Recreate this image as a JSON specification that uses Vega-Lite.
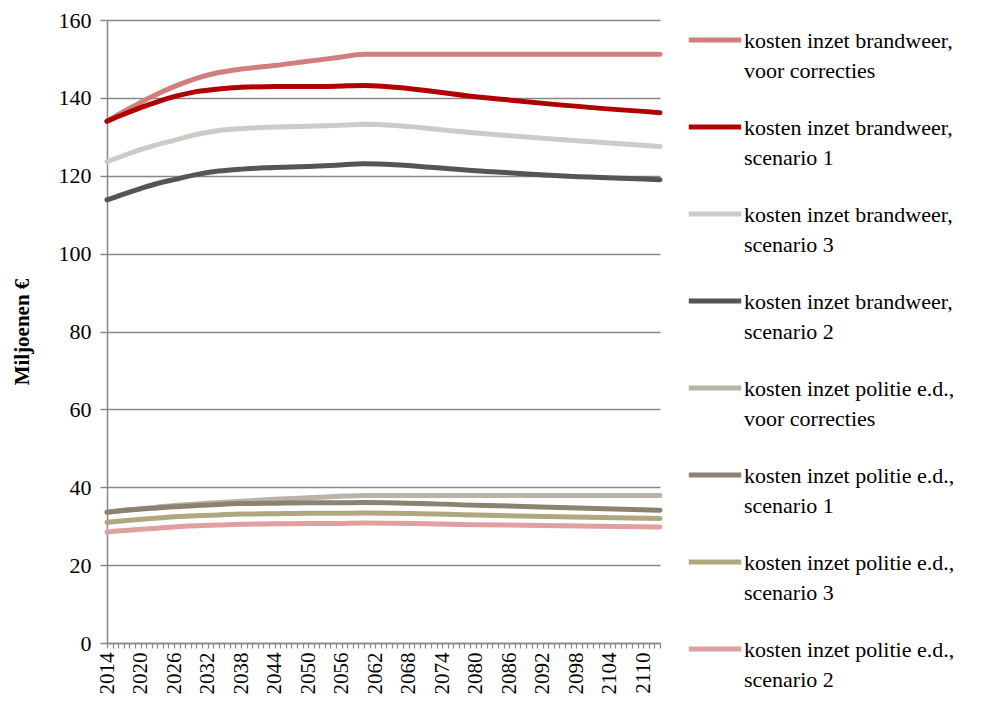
{
  "$schema": "https://vega.github.io/schema/vega-lite/v6.json",
  "autosize": {"type": "none"},
  "padding": {"left": 107, "top": 20, "right": 335, "bottom": 67},
  "width": 553,
  "height": 623,
  "background": "white",
  "config": {
    "view": {"stroke": null},
    "font": "Liberation Serif"
  },
  "data": {"values": [
    {"s": "kosten inzet brandweer, voor correcties", "year": 2014, "v": 134.0},
    {"s": "kosten inzet brandweer, voor correcties", "year": 2017, "v": 136.5},
    {"s": "kosten inzet brandweer, voor correcties", "year": 2020, "v": 138.8},
    {"s": "kosten inzet brandweer, voor correcties", "year": 2023, "v": 141.0},
    {"s": "kosten inzet brandweer, voor correcties", "year": 2026, "v": 142.9},
    {"s": "kosten inzet brandweer, voor correcties", "year": 2030, "v": 145.0},
    {"s": "kosten inzet brandweer, voor correcties", "year": 2034, "v": 146.5},
    {"s": "kosten inzet brandweer, voor correcties", "year": 2038, "v": 147.4},
    {"s": "kosten inzet brandweer, voor correcties", "year": 2044, "v": 148.3},
    {"s": "kosten inzet brandweer, voor correcties", "year": 2050, "v": 149.4},
    {"s": "kosten inzet brandweer, voor correcties", "year": 2055, "v": 150.3},
    {"s": "kosten inzet brandweer, voor correcties", "year": 2060, "v": 151.2},
    {"s": "kosten inzet brandweer, voor correcties", "year": 2080, "v": 151.2},
    {"s": "kosten inzet brandweer, voor correcties", "year": 2095, "v": 151.2},
    {"s": "kosten inzet brandweer, voor correcties", "year": 2113, "v": 151.2},

    {"s": "kosten inzet brandweer, scenario 1", "year": 2014, "v": 134.0},
    {"s": "kosten inzet brandweer, scenario 1", "year": 2017, "v": 135.8},
    {"s": "kosten inzet brandweer, scenario 1", "year": 2020, "v": 137.5},
    {"s": "kosten inzet brandweer, scenario 1", "year": 2023, "v": 139.0},
    {"s": "kosten inzet brandweer, scenario 1", "year": 2026, "v": 140.3},
    {"s": "kosten inzet brandweer, scenario 1", "year": 2030, "v": 141.6},
    {"s": "kosten inzet brandweer, scenario 1", "year": 2034, "v": 142.3},
    {"s": "kosten inzet brandweer, scenario 1", "year": 2038, "v": 142.7},
    {"s": "kosten inzet brandweer, scenario 1", "year": 2044, "v": 142.9},
    {"s": "kosten inzet brandweer, scenario 1", "year": 2050, "v": 142.9},
    {"s": "kosten inzet brandweer, scenario 1", "year": 2055, "v": 143.0},
    {"s": "kosten inzet brandweer, scenario 1", "year": 2060, "v": 143.2},
    {"s": "kosten inzet brandweer, scenario 1", "year": 2080, "v": 140.3},
    {"s": "kosten inzet brandweer, scenario 1", "year": 2095, "v": 138.2},
    {"s": "kosten inzet brandweer, scenario 1", "year": 2113, "v": 136.2},

    {"s": "kosten inzet brandweer, scenario 3", "year": 2014, "v": 123.6},
    {"s": "kosten inzet brandweer, scenario 3", "year": 2017, "v": 125.2},
    {"s": "kosten inzet brandweer, scenario 3", "year": 2020, "v": 126.7},
    {"s": "kosten inzet brandweer, scenario 3", "year": 2023, "v": 128.0},
    {"s": "kosten inzet brandweer, scenario 3", "year": 2026, "v": 129.1},
    {"s": "kosten inzet brandweer, scenario 3", "year": 2030, "v": 130.6},
    {"s": "kosten inzet brandweer, scenario 3", "year": 2034, "v": 131.6},
    {"s": "kosten inzet brandweer, scenario 3", "year": 2038, "v": 132.1},
    {"s": "kosten inzet brandweer, scenario 3", "year": 2044, "v": 132.5},
    {"s": "kosten inzet brandweer, scenario 3", "year": 2050, "v": 132.7},
    {"s": "kosten inzet brandweer, scenario 3", "year": 2055, "v": 132.9},
    {"s": "kosten inzet brandweer, scenario 3", "year": 2060, "v": 133.2},
    {"s": "kosten inzet brandweer, scenario 3", "year": 2080, "v": 131.0},
    {"s": "kosten inzet brandweer, scenario 3", "year": 2095, "v": 129.3},
    {"s": "kosten inzet brandweer, scenario 3", "year": 2113, "v": 127.5},

    {"s": "kosten inzet brandweer, scenario 2", "year": 2014, "v": 113.8},
    {"s": "kosten inzet brandweer, scenario 2", "year": 2017, "v": 115.3},
    {"s": "kosten inzet brandweer, scenario 2", "year": 2020, "v": 116.7},
    {"s": "kosten inzet brandweer, scenario 2", "year": 2023, "v": 118.0},
    {"s": "kosten inzet brandweer, scenario 2", "year": 2026, "v": 119.0},
    {"s": "kosten inzet brandweer, scenario 2", "year": 2030, "v": 120.3},
    {"s": "kosten inzet brandweer, scenario 2", "year": 2034, "v": 121.2},
    {"s": "kosten inzet brandweer, scenario 2", "year": 2038, "v": 121.7},
    {"s": "kosten inzet brandweer, scenario 2", "year": 2044, "v": 122.1},
    {"s": "kosten inzet brandweer, scenario 2", "year": 2050, "v": 122.4},
    {"s": "kosten inzet brandweer, scenario 2", "year": 2055, "v": 122.7},
    {"s": "kosten inzet brandweer, scenario 2", "year": 2060, "v": 123.1},
    {"s": "kosten inzet brandweer, scenario 2", "year": 2080, "v": 121.3},
    {"s": "kosten inzet brandweer, scenario 2", "year": 2095, "v": 120.0},
    {"s": "kosten inzet brandweer, scenario 2", "year": 2113, "v": 119.0},

    {"s": "kosten inzet politie e.d., voor correcties", "year": 2014, "v": 33.6},
    {"s": "kosten inzet politie e.d., voor correcties", "year": 2017, "v": 34.1},
    {"s": "kosten inzet politie e.d., voor correcties", "year": 2020, "v": 34.5},
    {"s": "kosten inzet politie e.d., voor correcties", "year": 2023, "v": 34.9},
    {"s": "kosten inzet politie e.d., voor correcties", "year": 2026, "v": 35.3},
    {"s": "kosten inzet politie e.d., voor correcties", "year": 2030, "v": 35.7},
    {"s": "kosten inzet politie e.d., voor correcties", "year": 2034, "v": 36.1},
    {"s": "kosten inzet politie e.d., voor correcties", "year": 2038, "v": 36.4},
    {"s": "kosten inzet politie e.d., voor correcties", "year": 2044, "v": 36.9},
    {"s": "kosten inzet politie e.d., voor correcties", "year": 2050, "v": 37.3},
    {"s": "kosten inzet politie e.d., voor correcties", "year": 2055, "v": 37.6},
    {"s": "kosten inzet politie e.d., voor correcties", "year": 2060, "v": 37.9},
    {"s": "kosten inzet politie e.d., voor correcties", "year": 2080, "v": 37.9},
    {"s": "kosten inzet politie e.d., voor correcties", "year": 2095, "v": 37.9},
    {"s": "kosten inzet politie e.d., voor correcties", "year": 2113, "v": 37.9},

    {"s": "kosten inzet politie e.d., scenario 1", "year": 2014, "v": 33.6},
    {"s": "kosten inzet politie e.d., scenario 1", "year": 2017, "v": 34.0},
    {"s": "kosten inzet politie e.d., scenario 1", "year": 2020, "v": 34.4},
    {"s": "kosten inzet politie e.d., scenario 1", "year": 2023, "v": 34.7},
    {"s": "kosten inzet politie e.d., scenario 1", "year": 2026, "v": 35.0},
    {"s": "kosten inzet politie e.d., scenario 1", "year": 2030, "v": 35.3},
    {"s": "kosten inzet politie e.d., scenario 1", "year": 2034, "v": 35.6},
    {"s": "kosten inzet politie e.d., scenario 1", "year": 2038, "v": 35.8},
    {"s": "kosten inzet politie e.d., scenario 1", "year": 2044, "v": 35.9},
    {"s": "kosten inzet politie e.d., scenario 1", "year": 2050, "v": 36.0},
    {"s": "kosten inzet politie e.d., scenario 1", "year": 2055, "v": 36.0},
    {"s": "kosten inzet politie e.d., scenario 1", "year": 2060, "v": 36.1},
    {"s": "kosten inzet politie e.d., scenario 1", "year": 2080, "v": 35.4},
    {"s": "kosten inzet politie e.d., scenario 1", "year": 2095, "v": 34.8},
    {"s": "kosten inzet politie e.d., scenario 1", "year": 2113, "v": 34.1},

    {"s": "kosten inzet politie e.d., scenario 3", "year": 2014, "v": 31.0},
    {"s": "kosten inzet politie e.d., scenario 3", "year": 2017, "v": 31.4},
    {"s": "kosten inzet politie e.d., scenario 3", "year": 2020, "v": 31.8},
    {"s": "kosten inzet politie e.d., scenario 3", "year": 2023, "v": 32.1},
    {"s": "kosten inzet politie e.d., scenario 3", "year": 2026, "v": 32.4},
    {"s": "kosten inzet politie e.d., scenario 3", "year": 2030, "v": 32.7},
    {"s": "kosten inzet politie e.d., scenario 3", "year": 2034, "v": 32.9},
    {"s": "kosten inzet politie e.d., scenario 3", "year": 2038, "v": 33.1},
    {"s": "kosten inzet politie e.d., scenario 3", "year": 2044, "v": 33.2},
    {"s": "kosten inzet politie e.d., scenario 3", "year": 2050, "v": 33.3},
    {"s": "kosten inzet politie e.d., scenario 3", "year": 2055, "v": 33.3},
    {"s": "kosten inzet politie e.d., scenario 3", "year": 2060, "v": 33.4},
    {"s": "kosten inzet politie e.d., scenario 3", "year": 2080, "v": 32.9},
    {"s": "kosten inzet politie e.d., scenario 3", "year": 2095, "v": 32.4},
    {"s": "kosten inzet politie e.d., scenario 3", "year": 2113, "v": 32.0},

    {"s": "kosten inzet politie e.d., scenario 2", "year": 2014, "v": 28.5},
    {"s": "kosten inzet politie e.d., scenario 2", "year": 2017, "v": 28.9},
    {"s": "kosten inzet politie e.d., scenario 2", "year": 2020, "v": 29.2},
    {"s": "kosten inzet politie e.d., scenario 2", "year": 2023, "v": 29.5},
    {"s": "kosten inzet politie e.d., scenario 2", "year": 2026, "v": 29.8},
    {"s": "kosten inzet politie e.d., scenario 2", "year": 2030, "v": 30.1},
    {"s": "kosten inzet politie e.d., scenario 2", "year": 2034, "v": 30.3},
    {"s": "kosten inzet politie e.d., scenario 2", "year": 2038, "v": 30.5},
    {"s": "kosten inzet politie e.d., scenario 2", "year": 2044, "v": 30.6},
    {"s": "kosten inzet politie e.d., scenario 2", "year": 2050, "v": 30.7},
    {"s": "kosten inzet politie e.d., scenario 2", "year": 2055, "v": 30.7},
    {"s": "kosten inzet politie e.d., scenario 2", "year": 2060, "v": 30.8},
    {"s": "kosten inzet politie e.d., scenario 2", "year": 2080, "v": 30.4},
    {"s": "kosten inzet politie e.d., scenario 2", "year": 2095, "v": 30.1},
    {"s": "kosten inzet politie e.d., scenario 2", "year": 2113, "v": 29.8}
  ]},
  "mark": {"type": "line", "strokeWidth": 5, "strokeCap": "round", "strokeJoin": "round", "interpolate": "monotone"},
  "encoding": {
    "x": {
      "field": "year", "type": "quantitative",
      "scale": {"domain": [2014, 2113], "nice": false, "zero": false},
      "axis": {
        "title": null, "grid": false, "tickCount": 100,
        "labelExpr": "(datum.value - 2014) % 6 == 0 ? '' + datum.value : ''",
        "labelAngle": -90, "labelOverlap": false, "labelFlush": false,
        "labelFont": "Liberation Serif", "labelFontSize": 21, "labelColor": "#000000",
        "labelPadding": 4,
        "domainColor": "#888888", "domainWidth": 1.5,
        "tickColor": "#888888", "tickSize": 5, "tickWidth": 1.2
      }
    },
    "y": {
      "field": "v", "type": "quantitative",
      "scale": {"domain": [0, 160], "nice": false},
      "axis": {
        "title": "Miljoenen €", "titleFont": "Liberation Serif", "titleFontSize": 21,
        "titleFontWeight": "bold", "titleColor": "#000000", "titlePadding": 26,
        "values": [0, 20, 40, 60, 80, 100, 120, 140, 160],
        "labelFont": "Liberation Serif", "labelFontSize": 22, "labelColor": "#000000",
        "labelPadding": 9,
        "grid": true, "gridColor": "#888888", "gridWidth": 1.5,
        "domainColor": "#888888", "domainWidth": 1.5,
        "tickColor": "#888888", "tickSize": 7, "tickWidth": 1.5
      }
    },
    "color": {
      "field": "s", "type": "nominal",
      "scale": {
        "domain": [
          "kosten inzet brandweer, voor correcties",
          "kosten inzet brandweer, scenario 1",
          "kosten inzet brandweer, scenario 3",
          "kosten inzet brandweer, scenario 2",
          "kosten inzet politie e.d., voor correcties",
          "kosten inzet politie e.d., scenario 1",
          "kosten inzet politie e.d., scenario 3",
          "kosten inzet politie e.d., scenario 2"
        ],
        "range": ["#D27E7E", "#B00000", "#CCCBC6", "#555555", "#B8B4A8", "#8B8272", "#AFA77E", "#E0A0A0"]
      },
      "legend": {
        "title": null,
        "orient": "none", "legendX": 579, "legendY": -9,
        "symbolType": "stroke", "symbolSize": 2750, "symbolStrokeWidth": 5,
        "labelFont": "Liberation Serif", "labelFontSize": 22, "labelColor": "#000000",
        "labelLimit": 400, "labelOffset": 0, "labelBaseline": "top",
        "labelExpr": "[slice(datum.label, 0, indexof(datum.label, ',') + 1), slice(datum.label, indexof(datum.label, ',') + 2)]",
        "rowPadding": 16,
        "encode": {"labels": {"update": {"lineHeight": {"value": 30}, "dy": {"value": -9}}}}
      }
    }
  }
}
